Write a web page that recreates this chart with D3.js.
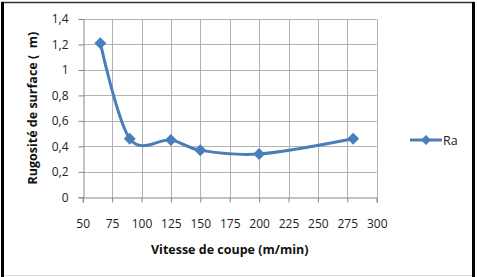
<!DOCTYPE html>
<html><head><meta charset="utf-8">
<script src="https://cdn.jsdelivr.net/npm/d3@7"></script>
<style>body{margin:0;background:#fff}svg{display:block}</style>
</head><body>
<svg id="c" width="477" height="277"></svg>
<script>
const vitesse = [65, 90, 125, 150, 200, 280];
const ra = [1.21, 0.46, 0.45, 0.37, 0.34, 0.46];
const xTicks = [50, 75, 100, 125, 150, 175, 200, 225, 250, 275, 300];
const yTicks = [0, 0.2, 0.4, 0.6, 0.8, 1, 1.2, 1.4];
const seriesName = "Ra";
const xTitle = "Vitesse de coupe (m/min)";
const yTitle = "Rugosité de surface (\u00a0\u00a0m)";

const svg = d3.select("#c");
const font = "'Open Sans', 'Liberation Sans', sans-serif";
const blue = "#4a7ebb";

// frame
svg.append("rect").attr("x",0).attr("y",0).attr("width",477).attr("height",277).attr("fill","#fff");
svg.append("line").attr("x1",1).attr("x2",474).attr("y1",2.5).attr("y2",2.5).attr("stroke","#333").attr("stroke-width",1.5);
svg.append("line").attr("x1",2.5).attr("x2",2.5).attr("y1",2).attr("y2",277).attr("stroke","#000").attr("stroke-width",3);
svg.append("line").attr("x1",473.5).attr("x2",473.5).attr("y1",2).attr("y2",277).attr("stroke","#000").attr("stroke-width",3);
svg.append("line").attr("x1",4).attr("x2",472).attr("y1",275.5).attr("y2",275.5).attr("stroke","#ddd").attr("stroke-width",1);

const x = d3.scaleLinear().domain([50,300]).range([82.7,376.7]);
const y = d3.scaleLinear().domain([0,1.4]).range([197.3,19]);
const fmt = d => String(d).replace(".", ",");

// grid
const g = svg.append("g");
g.selectAll(".hg").data(yTicks.slice(1)).join("line")
  .attr("x1",x(50)).attr("x2",x(300)).attr("y1",d=>Math.round(y(d))+0.5).attr("y2",d=>Math.round(y(d))+0.5)
  .attr("stroke","#b3b3b3").attr("stroke-width",1);
g.selectAll(".vg").data(xTicks.slice(1)).join("line")
  .attr("x1",d=>Math.round(x(d))+0.5).attr("x2",d=>Math.round(x(d))+0.5).attr("y1",y(1.4)).attr("y2",y(0))
  .attr("stroke","#b3b3b3").attr("stroke-width",1);

// axes
const xa = svg.append("g").attr("transform",`translate(0,${Math.round(y(0))+0.5})`)
  .call(d3.axisBottom(x).tickValues(xTicks).tickSize(5).tickPadding(17).tickFormat(d=>d));
const ya = svg.append("g").attr("transform",`translate(${Math.round(x(50))+0.5},0)`)
  .call(d3.axisLeft(y).tickValues(yTicks).tickSize(5).tickPadding(10).tickFormat(fmt));
[xa,ya].forEach(a=>{
  a.select(".domain").attr("stroke","#868686");
  a.selectAll(".tick line").attr("stroke","#868686");
  a.selectAll("text").attr("fill","#222").style("font-family",font).style("font-size","12px");
});

// line
const line = d3.line().x((d,i)=>x(vitesse[i])).y(d=>y(d)).curve(d3.curveCatmullRom.alpha(0));
svg.append("path").datum(ra).attr("d",line).attr("fill","none").attr("stroke",blue).attr("stroke-width",3).attr("stroke-linejoin","round");
svg.selectAll(".pt").data(ra).join("path")
  .attr("d",d3.symbol().type(d3.symbolSquare).size(55))
  .attr("transform",(d,i)=>`translate(${x(vitesse[i])},${y(d)}) rotate(45)`)
  .attr("fill",blue).attr("stroke",blue).attr("stroke-width",1);

// titles
svg.append("text").attr("x",(x(50)+x(300))/2).attr("y",254).attr("text-anchor","middle")
  .style("font-family",font).style("font-size","12.5px").style("font-weight","bold").attr("fill","#111").text(xTitle);
svg.append("text").attr("transform",`translate(37,${(y(0)+y(1.4))/2}) rotate(-90)`).attr("text-anchor","middle")
  .style("font-family",font).style("font-size","12.5px").style("font-weight","bold").attr("fill","#111").text(yTitle);

// legend
const lg = svg.append("g");
lg.append("line").attr("x1",410).attr("x2",442).attr("y1",140).attr("y2",140).attr("stroke",blue).attr("stroke-width",3);
lg.append("path").attr("d",d3.symbol().type(d3.symbolSquare).size(50)).attr("transform","translate(426,140) rotate(45)").attr("fill",blue);
lg.append("text").attr("x",443).attr("y",144.5).style("font-family",font).style("font-size","12.5px").attr("fill","#222").text(seriesName);
</script>
</body></html>
